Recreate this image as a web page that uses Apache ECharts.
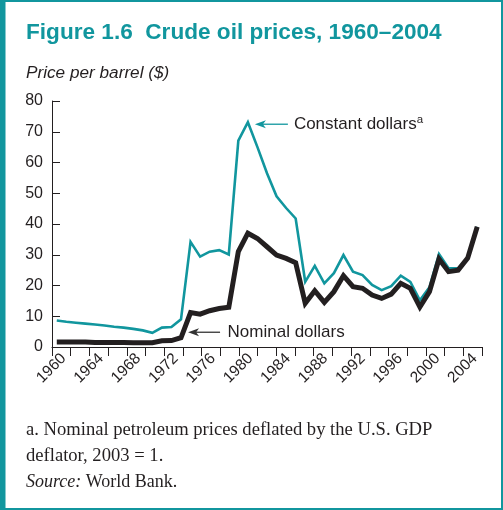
<!DOCTYPE html>
<html>
<head>
<meta charset="utf-8">
<script src="https://cdn.jsdelivr.net/npm/echarts@6/dist/echarts.min.js"></script>
<style>
  html, body { margin: 0; padding: 0; background: #fff; }
  #chart { width: 503px; height: 510px; }
</style>
</head>
<body>
<div id="chart"></div>
<script>
// years on the category axis
const years = [
  '1960', '1961', '1962', '1963', '1964', '1965', '1966', '1967', '1968', '1969',
  '1970', '1971', '1972', '1973', '1974', '1975', '1976', '1977', '1978', '1979',
  '1980', '1981', '1982', '1983', '1984', '1985', '1986', '1987', '1988', '1989',
  '1990', '1991', '1992', '1993', '1994', '1995', '1996', '1997', '1998', '1999',
  '2000', '2001', '2002', '2003', '2004'
];
// labels under every other tick
const tickLabels = ['1960', '1964', '1968', '1972', '1976', '1980', '1984', '1988', '1992', '1996', '2000', '2004'];

// price per barrel, constant 2003 dollars
const constantDollars = [
  8.6, 8.2, 7.9, 7.6, 7.3, 7.0, 6.6, 6.3, 5.9, 5.4,
  4.6, 6.3, 6.5, 9.0, 34.2, 29.4, 31.0, 31.5, 30.1, 67.1,
  73.1, 65.0, 56.5, 49.0, 45.2, 41.8, 21.2, 26.4, 20.7, 24.0,
  29.9, 24.5, 23.4, 20.2, 18.5, 19.8, 23.2, 21.2, 15.2, 19.4,
  30.2, 25.6, 25.6, 28.9, 39.1
];
// price per barrel, nominal dollars
const nominalDollars = [
  1.6, 1.6, 1.6, 1.6, 1.5, 1.5, 1.5, 1.5, 1.4, 1.4,
  1.4, 2.0, 2.1, 3.0, 11.2, 10.7, 11.8, 12.5, 12.9, 31.0,
  37.0, 35.3, 32.6, 29.9, 28.8, 27.4, 14.2, 18.3, 14.5, 18.0,
  23.2, 19.6, 19.1, 16.9, 15.8, 17.2, 20.7, 19.1, 13.0, 18.0,
  28.6, 24.5, 25.0, 28.9, 39.1
];

const teal = '#11969e';
const ink = '#231f20';
const sans = 'Liberation Sans, Arial, sans-serif';
const serif = 'Liberation Serif, Times New Roman, serif';

const chart = echarts.init(document.getElementById('chart'));

let option = {
  animation: false,
  backgroundColor: '#fff',
  grid: {
    left: 52,
    right: 21,
    top: 101,
    bottom: 163,
    outerBoundsMode: 'none'
  },
  xAxis: [
    {
      type: 'category',
      data: years,
      boundaryGap: true,
      axisLine: { show: true, lineStyle: { color: ink, width: 1 } },
      axisTick: { show: false },
      axisLabel: { show: false },
      splitLine: { show: false }
    },
    {
      // only draws the ticks and year labels
      type: 'value',
      position: 'bottom',
      min: 0,
      max: 23,
      interval: 1,
      axisLine: { show: false },
      axisTick: { show: true, length: 9, lineStyle: { color: ink, width: 1 } },
      axisLabel: {
        rotate: 45,
        margin: 2,
        padding: [0, 10, 0, 0],
        color: ink,
        fontFamily: sans,
        fontSize: 15.5,
        formatter: function (v) {
          return v % 2 === 1 ? tickLabels[(v - 1) / 2] : '';
        }
      },
      splitLine: { show: false }
    }
  ],
  yAxis: {
    type: 'value',
    min: 0,
    max: 80,
    interval: 10,
    axisLine: { show: true, lineStyle: { color: ink, width: 1 } },
    axisTick: { show: true, inside: true, length: 8, lineStyle: { color: ink, width: 1 } },
    axisLabel: { color: ink, fontFamily: sans, fontSize: 16, margin: 9 },
    splitLine: { show: false }
  },
  series: [
    {
      name: 'Constant dollars',
      type: 'line',
      xAxisIndex: 0,
      data: constantDollars,
      symbol: 'none',
      lineStyle: { color: teal, width: 2.6, join: 'miter' }
    },
    {
      name: 'Nominal dollars',
      type: 'line',
      xAxisIndex: 0,
      data: nominalDollars,
      symbol: 'none',
      lineStyle: { color: ink, width: 5, join: 'miter' }
    }
  ]
};
chart.setOption(option);

// arrow pointing left, tip at (x, y)
function arrow(x, y, len, color) {
  return [
    { type: 'line', shape: { x1: x + 6, y1: y, x2: x + len, y2: y }, style: { stroke: color, lineWidth: 1.3 } },
    { type: 'polygon', shape: { points: [[x, y], [x + 11, y - 4], [x + 8, y], [x + 11, y + 4]] }, style: { fill: color } }
  ];
}

const peak = chart.convertToPixel({ xAxisIndex: 0, yAxisIndex: 0 }, [years[20], constantDollars[20]]);
const rise = chart.convertToPixel({ xAxisIndex: 0, yAxisIndex: 0 }, [years[14], 4.8]);

let graphics = [
  // frame
  { type: 'rect', shape: { x: 0, y: 0, width: 5.5, height: 510 }, style: { fill: teal } },
  { type: 'rect', shape: { x: 0, y: 0, width: 503, height: 2 }, style: { fill: teal } },
  { type: 'rect', shape: { x: 501, y: 0, width: 2, height: 510 }, style: { fill: teal } },
  { type: 'rect', shape: { x: 0, y: 508, width: 503, height: 2 }, style: { fill: teal } },
  {
    type: 'text', x: 26, y: 33,
    style: { text: 'Figure 1.6  Crude oil prices, 1960–2004', fill: teal, font: 'bold 22.6px ' + sans, verticalAlign: 'middle' }
  },
  {
    type: 'text', x: 26, y: 73,
    style: { text: 'Price per barrel ($)', fill: ink, font: 'italic 17.2px ' + sans, verticalAlign: 'middle' }
  },
  {
    type: 'text', x: peak[0] + 46, y: peak[1] + 2,
    style: {
      text: '{m|Constant dollars}{s|a}', fill: ink, verticalAlign: 'middle',
      rich: {
        m: { fontFamily: sans, fontSize: 17, color: ink, lineHeight: 20 },
        s: { fontFamily: sans, fontSize: 11.5, color: ink, verticalAlign: 'top', lineHeight: 12 }
      }
    }
  },
  {
    type: 'text', x: rise[0] + 37, y: rise[1],
    style: { text: 'Nominal dollars', fill: ink, font: '17px ' + sans, verticalAlign: 'middle' }
  },
  {
    type: 'text', x: 26, y: 443,
    style: {
      text: 'a. Nominal petroleum prices deflated by the U.S. GDP\ndeflator, 2003 = 1.',
      fill: ink, font: '18.6px ' + serif, lineHeight: 26, verticalAlign: 'middle'
    }
  },
  {
    type: 'text', x: 26, y: 482,
    style: {
      text: '{i|Source:} World Bank.', fill: ink, font: '18px ' + serif, verticalAlign: 'middle',
      rich: { i: { fontFamily: serif, fontSize: 18, fontStyle: 'italic', color: ink } }
    }
  }
];
graphics = graphics
  .concat(arrow(peak[0] + 7, peak[1] + 2, 33, teal))
  .concat(arrow(rise[0] - 2.5, rise[1], 32, '#333'));

chart.setOption({ graphic: graphics });
</script>
</body>
</html>
